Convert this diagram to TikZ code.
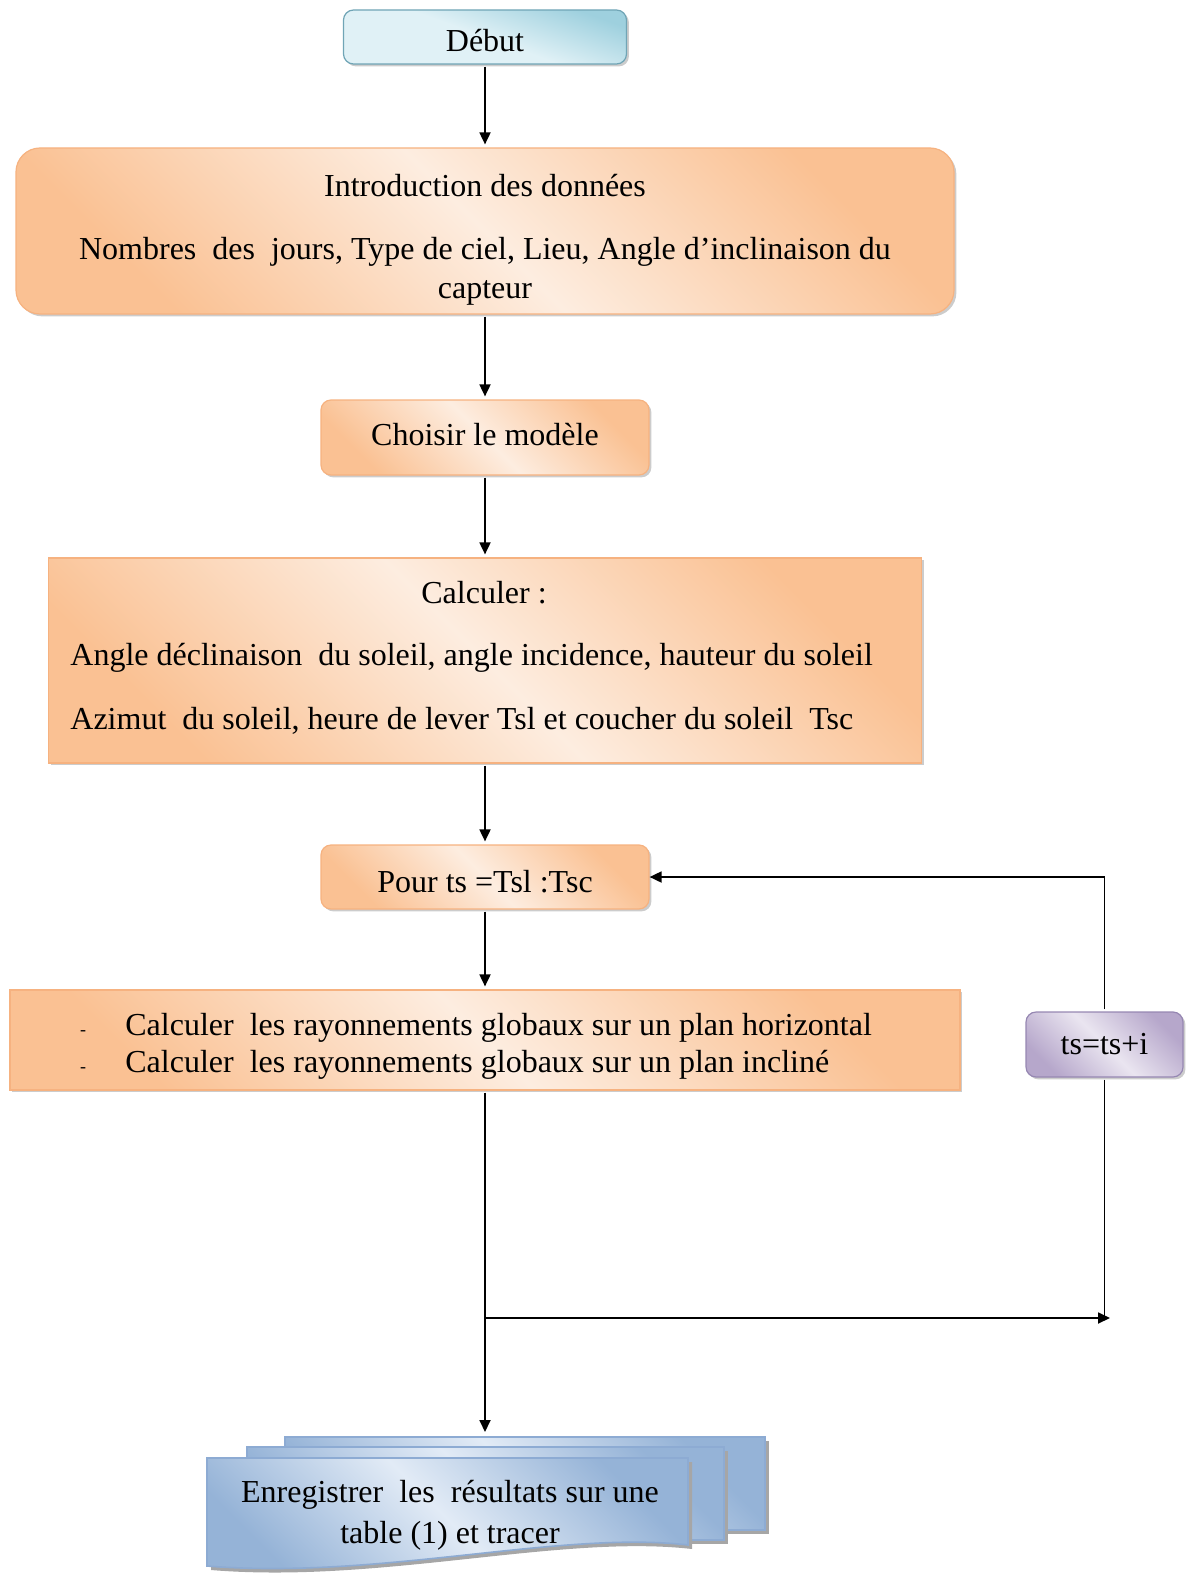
\documentclass[tikz,border=0pt]{standalone}
\usepackage{fontspec}
\setmainfont{Liberation Serif}
\usetikzlibrary{arrows.meta, positioning, calc, shadows}
\definecolor{peachD}{RGB}{250,193,147}
\definecolor{peachL}{RGB}{253,237,224}
\definecolor{peachB}{RGB}{246,178,128}
\definecolor{cyanD}{RGB}{158,208,222}
\definecolor{cyanL}{RGB}{224,241,246}
\definecolor{cyanB}{RGB}{112,165,182}
\definecolor{lilacD}{RGB}{182,167,203}
\definecolor{lilacL}{RGB}{234,229,240}
\definecolor{lilacB}{RGB}{150,135,178}
\definecolor{blueD}{RGB}{149,179,215}
\definecolor{blueL}{RGB}{226,235,246}
\definecolor{blueB}{RGB}{141,171,211}

\tikzset{
  txt/.style={font=\fontsize{16}{19}\selectfont},
  shade peach/.style={shading=axis, left color=peachD, right color=peachD, middle color=peachL, shading angle=135},
  box/.style={txt, draw=peachB, line width=0.6pt, shade peach, inner sep=0pt,
    drop shadow={shadow xshift=1.2pt, shadow yshift=-1.2pt, fill=black!40}},
  roundbox/.style={box, rounded corners=5pt},
  startbox/.style={roundbox, draw=cyanB, left color=cyanL, right color=cyanD, middle color=cyanL, shading angle=160},
  incbox/.style={roundbox, draw=lilacB, left color=lilacD, right color=lilacD, middle color=lilacL, shading angle=135},
  line/.style={txt, inner sep=0pt, text height=1.5ex, text depth=.3ex},
  page/.style={draw=blueB, line width=0.8pt, shading=axis, left color=blueD, right color=blueD, middle color=blueL, shading angle=135},
  flow/.style={line width=0.9pt, -{Triangle[length=6pt,width=5.5pt]}, shorten <=1pt, shorten >=1.5pt},
}

\begin{document}
\begin{tikzpicture}[x=0.5pt, y=-0.5pt]
  \useasboundingbox (0,0) rectangle (1190,1573);

  % boxes
  \node[startbox, minimum width=141.5pt, minimum height=27pt, text height=15pt, text depth=0pt] (debut) at (485,37) {Début};
  \node[roundbox, rounded corners=12pt, minimum width=469pt, minimum height=83pt] (intro) at (485,231) {};
  \node[roundbox, minimum width=164pt, minimum height=37.5pt, text height=11pt, text depth=3pt] (model) at (485,437.5) {Choisir le modèle};
  \node[box, minimum width=436.5pt, minimum height=102.5pt] (calc) at (485,660.5) {};
  \node[roundbox, minimum width=164pt, minimum height=32pt, text height=15.6pt, text depth=0pt] (pour) at (485,877) {Pour ts =Tsl :Tsc};
  \node[box, minimum width=475pt, minimum height=50pt] (ray) at (485,1040) {};
  \node[incbox, minimum width=78.5pt, minimum height=32.5pt] (inc) at (1104.5,1044.5) {ts=ts+i};

  % texts of the wide boxes
  \node[line] (intro-a) at (485,191) {Introduction des données};
  \node[line] (intro-b) at (485,254) {Nombres\ \ des\ \ jours, Type de ciel, Lieu, Angle d’inclinaison du};
  \node[line] (intro-c) at (485,293) {capteur};
  \node[line] (calc-a) at (484,598) {Calculer :};
  \node[line, anchor=west] (calc-b) at (70,660) {Angle déclinaison\ \ du soleil, angle incidence, hauteur du soleil};
  \node[line, anchor=west] (calc-c) at (70,724) {Azimut\ \ du soleil, heure de lever Tsl et coucher du soleil\ \ Tsc};
  \node[line, font=\small] (ray-d1) at (83,1030) {-};
  \node[line, anchor=west] (ray-a) at (125,1030) {Calculer\ \ les rayonnements globaux sur un plan horizontal};
  \node[line, font=\small] (ray-d2) at (83,1067) {-};
  \node[line, anchor=west] (ray-b) at (125,1067) {Calculer\ \ les rayonnements globaux sur un plan incliné};

  % stack of pages
  \fill[black!35] (289,1441) rectangle (769,1534);
  \path[page] (285,1437) rectangle (765,1530);
  \fill[black!35] (251,1451) rectangle (728,1544);
  \path[page] (247,1447) rectangle (724,1540);
  \fill[black!35] (211,1462) -- (692,1462) -- (692,1549) .. controls (560,1534) and (380,1584) .. (211,1570) -- cycle;
  \path[page] (207,1458) -- (688,1458) -- (688,1545) .. controls (560,1530) and (380,1580) .. (207,1566) -- cycle;
  \node[txt, align=center, font=\fontsize{16}{20.5}\selectfont] (doc) at (450,1515)
    {Enregistrer\ \ les\ \ résultats sur une\\ table (1) et tracer};

  % connectors
  \coordinate (join) at (485,1318);
  \coordinate (back) at (1110,1318);
  \coordinate (stack) at (485,1435);
  \draw[flow] (debut) -- (intro);
  \draw[flow] (intro) -- (model);
  \draw[flow] (model) -- (calc);
  \draw[flow] (calc) -- (pour);
  \draw[flow] (pour) -- (ray);
  \draw[flow] (ray) -- (stack);
  \draw[flow, shorten <=0pt, shorten >=0pt] (join) -- (back);
  \draw[line width=0.9pt, shorten <=1pt] (inc.south) -- (inc.south |- back);
  \draw[flow, shorten >=0pt] (inc.north) |- (pour.east);
\end{tikzpicture}
\end{document}
